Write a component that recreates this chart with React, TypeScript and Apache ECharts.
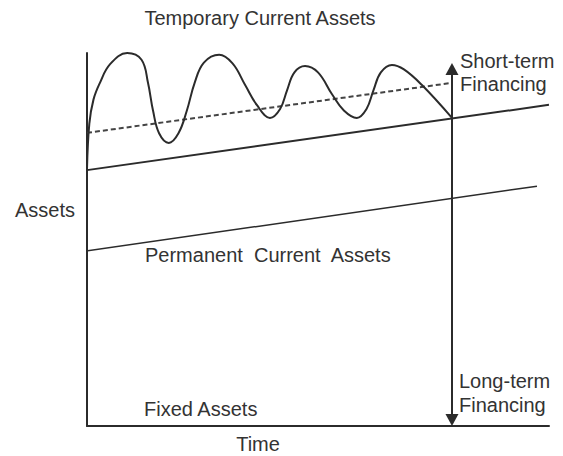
import React, { useEffect, useRef } from "react";
import * as echarts from "echarts";

// Conceptual units: time 0..100 along x, asset level 0..100 along y
const fixedAssetsLine: [number, number][] = [[-3, 46.4], [97.4, 64.3]];
const permanentLine: [number, number][] = [[0, 68.6], [100, 86.1]];
const financingLine: [number, number][] = [[0, 78.6], [79, 92.0]];
const temporaryWave: [number, number][] = [
  [0, 68.9], [0.5, 81], [1.4, 87.5], [2.8, 92], [5, 97], [8.7, 100],
  [11.8, 98.2], [13.2, 92], [14.3, 84.5], [15.6, 78.5], [17.7, 75.9],
  [19.8, 78.5], [21.6, 84.5], [23.3, 92], [25.3, 97.4], [28.6, 99.5],
  [31.5, 97.2], [34.2, 91.5], [36.8, 86], [39.6, 82.6],
  [41.8, 85], [43.3, 90], [44.9, 94.8], [47.2, 96.5],
  [50.0, 94.8], [53, 89], [55.6, 84.6], [58.4, 82.6],
  [60.5, 85], [62.0, 90], [63.6, 94.8], [66.0, 96.8],
  [68.6, 95.6], [72.5, 91.4], [79, 82.6],
];
const arrowX = 79;
const arrowFrom = 1.6;
const arrowTo = 95.7;

const labels = {
  title: "Temporary Current Assets",
  yName: "Assets",
  xName: "Time",
  permanent: "Permanent  Current  Assets",
  fixed: "Fixed Assets",
  shortTerm: ["Short-term", "Financing"],
  longTerm: ["Long-term", "Financing"],
};

const INK = "#2b2b2b";
const TEXT = "#333333";
const FONT = "'Liberation Sans', Arial, Helvetica, sans-serif";

export default function App() {
  const ref = useRef<HTMLDivElement>(null);
  useEffect(() => {
    if (!ref.current) return;
    const chart = echarts.init(ref.current, null, { renderer: "svg" });
    const txt = (text: string, x: number, y: number, align = "left") => ({
      type: "text",
      x,
      y,
      style: {
        text,
        fill: TEXT,
        font: `20px ${FONT}`,
        textAlign: align,
        textVerticalAlign: "middle",
      },
      silent: true,
    });
    chart.setOption({
      animation: false,
      backgroundColor: "#ffffff",
      grid: { left: 87, right: 14, top: 53, bottom: 30, containLabel: false },
      xAxis: {
        type: "value",
        min: 0,
        max: 100,
        axisLine: { show: true, onZero: false, lineStyle: { color: INK, width: 2 } },
        axisTick: { show: false },
        axisLabel: { show: false },
        splitLine: { show: false },
      },
      yAxis: {
        type: "value",
        min: 0,
        max: 100,
        axisLine: { show: true, onZero: false, lineStyle: { color: INK, width: 2 } },
        axisTick: { show: false },
        axisLabel: { show: false },
        splitLine: { show: false },
      },
      series: [
        {
          type: "line",
          data: fixedAssetsLine,
          clip: false,
          showSymbol: false,
          lineStyle: { color: INK, width: 1.5 },
          silent: true,
        },
        {
          type: "line",
          data: permanentLine,
          showSymbol: false,
          lineStyle: { color: INK, width: 2 },
          silent: true,
        },
        {
          type: "line",
          data: financingLine,
          showSymbol: false,
          lineStyle: { color: "#444444", width: 2, type: [5, 3] },
          silent: true,
        },
        {
          type: "line",
          data: temporaryWave,
          smooth: 0.4,
          showSymbol: false,
          lineStyle: { color: INK, width: 2 },
          silent: true,
          markLine: {
            silent: true,
            symbol: ["triangle", "triangle"],
            symbolSize: [13, 12],
            label: { show: false },
            lineStyle: { color: INK, width: 2, type: "solid" },
            data: [[{ coord: [arrowX, arrowFrom] }, { coord: [arrowX, arrowTo] }]],
          },
        },
      ],
      graphic: [
        txt(labels.title, 260, 18, "center"),
        txt(labels.yName, 15, 210),
        txt(labels.permanent, 145, 255),
        txt(labels.fixed, 144, 409),
        txt(labels.xName, 258, 444, "center"),
        txt(labels.shortTerm[0], 460, 61),
        txt(labels.shortTerm[1], 460, 84),
        txt(labels.longTerm[0], 459, 381),
        txt(labels.longTerm[1], 459, 405),
      ],
    });
    return () => chart.dispose();
  }, []);
  return (
    <div
      ref={ref}
      style={{ position: "absolute", left: 0, top: 0, width: 563, height: 456 }}
    />
  );
}
